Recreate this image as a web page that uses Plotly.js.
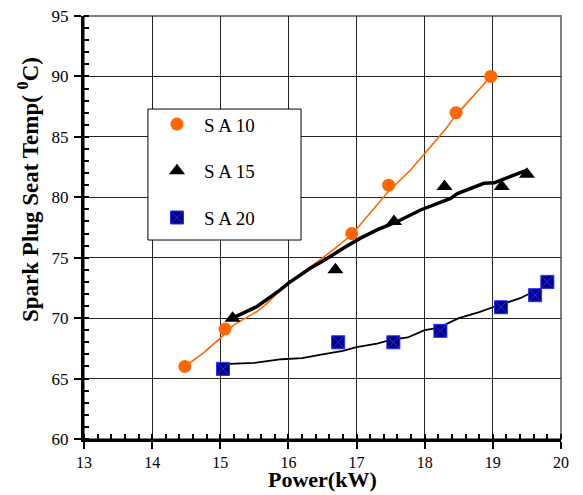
<!DOCTYPE html>
<html>
<head>
<meta charset="utf-8">
<script src="https://cdn.plot.ly/plotly-3.0.1.min.js"></script>
<style>html,body{margin:0;padding:0;background:#fff;}#chart{width:583px;height:495px;}</style>
</head>
<body>
<div id="chart"></div>
<script>
// Measured points
var sa10X = [14.48, 15.07, 16.93, 17.47, 18.46, 18.97];
var sa10Y = [66.0, 69.1, 77.0, 81.0, 87.0, 90.0];
var sa15X = [15.18, 16.69, 17.55, 18.29, 19.13, 19.5];
var sa15Y = [70.0, 74.0, 78.0, 80.9, 80.9, 81.9];
var sa20X = [15.04, 16.73, 17.54, 18.23, 19.12, 19.62, 19.8];
var sa20Y = [65.8, 68.0, 68.0, 68.95, 70.9, 71.9, 73.0];

// Trend lines
var fit10X = [14.48, 14.75, 15.0, 15.2, 15.54, 15.69, 15.93, 16.32, 16.6, 16.93, 17.2, 17.47, 17.8, 18.04, 18.3, 18.46, 18.7, 18.97];
var fit10Y = [66.0, 67.1, 68.35, 69.45, 70.55, 71.24, 72.6, 74.26, 75.4, 76.9, 78.7, 80.5, 82.3, 83.9, 85.6, 86.8, 88.3, 90.0];
var fit15X = [15.18, 15.54, 15.88, 16.0, 16.32, 16.5, 16.81, 17.05, 17.3, 17.6, 17.94, 18.2, 18.38, 18.48, 18.7, 18.87, 19.02, 19.25, 19.51];
var fit15Y = [70.0, 70.96, 72.34, 72.9, 74.13, 74.7, 75.8, 76.6, 77.3, 78.0, 78.95, 79.5, 79.9, 80.3, 80.8, 81.16, 81.2, 81.7, 82.26];
var fit20X = [15.05, 15.5, 15.9, 16.2, 16.5, 16.8, 17.0, 17.3, 17.5, 17.75, 18.0, 18.2, 18.5, 18.8, 19.0, 19.4, 19.6, 19.8];
var fit20Y = [66.2, 66.3, 66.6, 66.7, 67.0, 67.3, 67.6, 67.9, 68.2, 68.4, 69.0, 69.2, 70.0, 70.5, 70.9, 71.65, 72.2, 72.7];

var seriesNames = ["S A 10", "S A 15", "S A 20"];
var xTitle = "Power(kW)";
var yTitle = "Spark Plug Seat Temp( <sup>0</sup>C)";

var serif = "Liberation Serif, Times New Roman, serif";
var orange = "#FF6600";

var traces = [
  {x: fit10X, y: fit10Y, mode: "lines", line: {color: orange, width: 1.6}, showlegend: false, hoverinfo: "skip"},
  {x: fit15X, y: fit15Y, mode: "lines", line: {color: "#000", width: 3.5}, showlegend: false, hoverinfo: "skip"},
  {x: fit20X, y: fit20Y, mode: "lines", line: {color: "#000", width: 1.8}, showlegend: false, hoverinfo: "skip"},
  {x: sa10X, y: sa10Y, mode: "markers", name: seriesNames[0], legendgroup: "a",
   marker: {symbol: "circle", size: 13, color: orange}},
  {x: sa15X, y: sa15Y, mode: "markers", name: seriesNames[1], legendgroup: "b",
   marker: {symbol: "triangle-up", size: 14, color: "#000"}},
  {x: sa20X, y: sa20Y, mode: "markers", name: seriesNames[2], legendgroup: "c",
   marker: {symbol: "square-x", size: 13, color: "#000080", line: {color: "#2a2aff", width: 1}}}
];

var layout = {
  width: 583, height: 495,
  margin: {l: 84, r: 22, t: 16, b: 56, pad: 0},
  paper_bgcolor: "#fff", plot_bgcolor: "#fff",
  font: {family: serif, color: "#000"},
  showlegend: true,
  legend: {
    x: 0.1383, xanchor: "left", y: 0.789, yanchor: "top",
    bgcolor: "rgba(0,0,0,0)", borderwidth: 0,
    font: {family: serif, size: 19, color: "#000"},
    tracegroupgap: 19, itemsizing: "trace", itemwidth: 44
  },
  xaxis: {
    range: [13, 20], dtick: 1, tick0: 13,
    showgrid: true, gridcolor: "#222", gridwidth: 1,
    zeroline: false,
    showline: true, linecolor: "#000", linewidth: 3,
    ticks: "outside", ticklen: 7, tickwidth: 2, tickcolor: "#000",
    minor: {dtick: 0.2, ticks: "inside", ticklen: 5, tickwidth: 2, tickcolor: "#000", showgrid: false},
    tickfont: {family: serif, size: 16, color: "#000"},
    ticklabelstandoff: 0,
    automargin: false
  },
  yaxis: {
    range: [60, 95], dtick: 5, tick0: 60,
    showgrid: true, gridcolor: "#222", gridwidth: 1,
    zeroline: false,
    showline: true, linecolor: "#000", linewidth: 3,
    ticks: "outside", ticklen: 7, tickwidth: 2, tickcolor: "#000",
    minor: {dtick: 1, ticks: "inside", ticklen: 5, tickwidth: 2, tickcolor: "#000", showgrid: false},
    tickfont: {family: serif, size: 17, color: "#000"},
    ticklabelstandoff: 2,
    automargin: false
  },
  annotations: [
    {text: yTitle, xref: "paper", yref: "paper", x: -0.115, y: 0.589,
     xanchor: "center", yanchor: "middle", textangle: -90, showarrow: false,
     font: {family: serif, size: 23, color: "#000", weight: "bold"}},
    {text: xTitle, xref: "paper", yref: "paper", x: 0.5, y: -0.0969,
     xanchor: "center", yanchor: "middle", showarrow: false, borderpad: 0,
     font: {family: serif, size: 22, color: "#000", weight: "bold"}}
  ],
  shapes: [
    {type: "rect", xref: "paper", yref: "paper", x0: 0, x1: 1, y0: 0, y1: 1,
     line: {color: "#808080", width: 2}, layer: "below"},
    {type: "rect", xref: "paper", yref: "paper", x0: 0.134, x1: 0.455, y0: 0.4704, y1: 0.780,
     line: {color: "#000", width: 1}, fillcolor: "#fff", layer: "above"}
  ]
};

Plotly.newPlot("chart", traces, layout, {displayModeBar: false, staticPlot: true});
</script>
</body>
</html>
